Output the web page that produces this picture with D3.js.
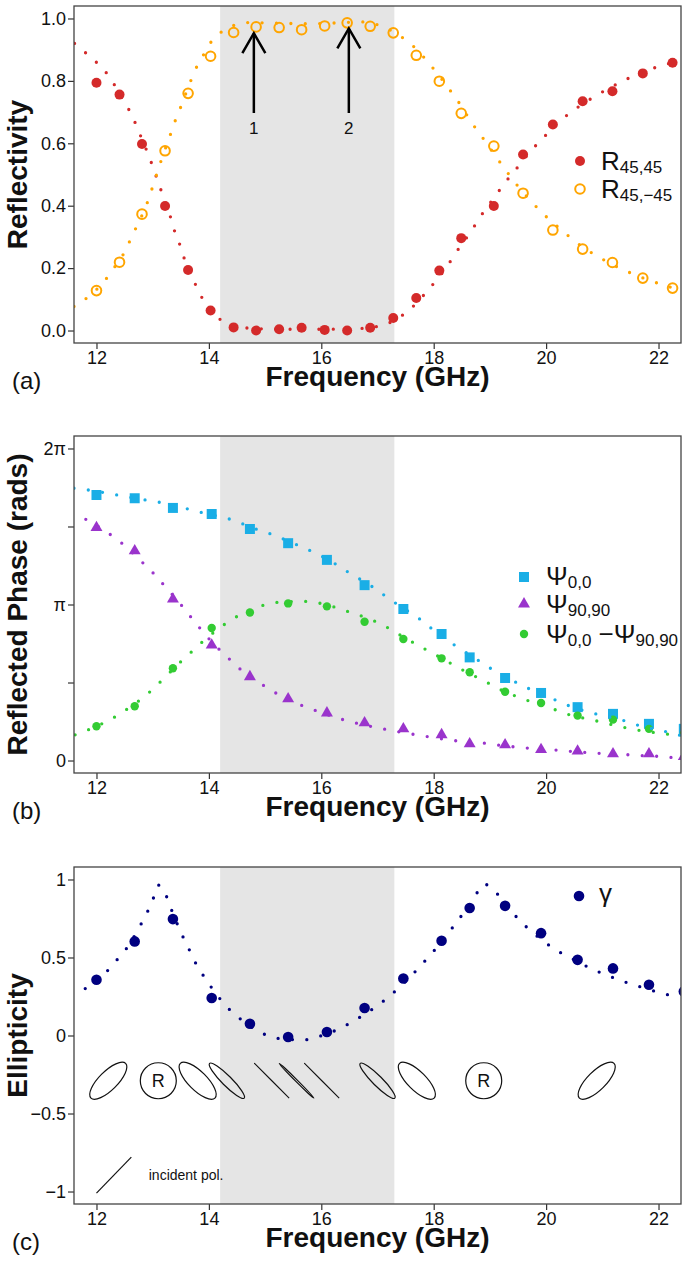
<!DOCTYPE html>
<html><head><meta charset="utf-8">
<script src="https://cdn.jsdelivr.net/npm/d3@7"></script>
<style>
body { margin:0; background:#fff; }
text { font-family:"Liberation Sans", Arial, Helvetica, sans-serif; fill:#111; }
</style></head><body>
<svg id="fig" width="688" height="1272"></svg>
<script>
// ---- data ----
// (a) reflectivity
var freqA = [12.0,12.41,12.81,13.22,13.63,14.03,14.44,14.84,15.25,15.65,16.06,16.46,16.87,17.28,17.69,18.10,18.49,19.07,19.59,20.12,20.65,21.18,21.72,22.25];
var r4545 = [0.794,0.756,0.598,0.399,0.194,0.064,0.01,0.0,0.004,0.009,0.002,0.0,0.009,0.04,0.104,0.192,0.296,0.399,0.564,0.66,0.735,0.767,0.824,0.858];
var r45m45 = [0.128,0.219,0.373,0.576,0.76,0.879,0.955,0.973,0.971,0.964,0.976,0.986,0.975,0.954,0.882,0.799,0.696,0.591,0.44,0.322,0.261,0.218,0.168,0.136];
var fitR4545 = [[11.61,0.92],[11.8,0.891],[11.99,0.861],[12.17,0.827],[12.31,0.79],[12.57,0.71],[12.68,0.669],[12.78,0.626],[12.97,0.541],[13.05,0.5],[13.14,0.454],[13.31,0.368],[13.38,0.324],[13.47,0.282],[13.55,0.237],[13.75,0.152],[13.86,0.111],[14.17,0.04],[14.5,0.012],[15.0,0.005],[15.5,0.004],[16.0,0.004],[16.5,0.005],[16.9,0.01],[17.16,0.021],[17.59,0.07],[17.93,0.136],[18.25,0.209],[18.39,0.248],[18.68,0.322],[18.82,0.362],[19.12,0.437],[19.27,0.474],[19.43,0.509],[19.75,0.58],[19.93,0.614],[20.29,0.678],[20.49,0.706],[20.92,0.756],[21.37,0.8],[21.83,0.836],[22.08,0.85],[22.33,0.863]];
var fitR45m45 = [[11.6,0.077],[11.81,0.102],[12.17,0.165],[12.33,0.205],[12.47,0.242],[12.58,0.282],[12.69,0.324],[12.9,0.408],[12.98,0.45],[13.14,0.539],[13.31,0.625],[13.39,0.667],[13.49,0.712],[13.67,0.797],[13.77,0.84],[13.89,0.879],[14.02,0.92],[14.19,0.952],[14.42,0.976],[14.66,0.987],[15.2,0.985],[15.8,0.983],[16.3,0.986],[16.7,0.989],[17.0,0.98],[17.41,0.943],[17.62,0.914],[17.96,0.847],[18.27,0.775],[18.42,0.738],[18.7,0.66],[18.85,0.623],[19.14,0.549],[19.29,0.512],[19.44,0.476],[19.78,0.405],[19.96,0.372],[20.34,0.312],[20.54,0.282],[20.97,0.232],[21.42,0.191],[21.9,0.157],[22.14,0.143],[22.39,0.13]];
var arrowsA = [{f:14.8, tail:0.697, tip:0.953, label:"1"}, {f:16.49, tail:0.697, tip:0.968, label:"2"}];

// (b) reflected phase, in units of pi
var freqB = [12.0,12.68,13.36,14.05,14.73,15.41,16.1,16.77,17.46,18.14,18.64,19.27,19.91,20.56,21.19,21.83,22.45];
var psi00 = [1.702,1.681,1.619,1.58,1.484,1.393,1.286,1.124,0.971,0.811,0.661,0.529,0.433,0.342,0.299,0.235,0.203];
var psi9090 = [1.493,1.344,1.035,0.74,0.537,0.395,0.305,0.241,0.203,0.165,0.107,0.1,0.07,0.06,0.043,0.043,0.025];
var psiDiff = [0.22,0.348,0.591,0.849,0.949,1.007,0.988,0.889,0.779,0.655,0.566,0.441,0.369,0.288,0.262,0.203,0.17];
var fitPsi00 = [[11.6,1.745],[11.89,1.732],[12.14,1.717],[12.39,1.7],[12.9,1.668],[13.15,1.653],[13.65,1.61],[13.88,1.589],[14.38,1.546],[14.85,1.482],[15.1,1.452],[15.58,1.38],[15.81,1.344],[16.26,1.258],[16.47,1.209],[16.91,1.113],[17.11,1.062],[17.32,1.009],[17.75,0.907],[17.96,0.847],[18.37,0.74],[18.8,0.64],[19.01,0.591],[19.46,0.502],[19.68,0.463],[20.15,0.39],[20.37,0.356],[20.88,0.299],[21.38,0.256],[21.62,0.228],[22.12,0.186],[22.4,0.16]];
var fitPsi9090 = [[11.81,1.546],[12.24,1.45],[12.45,1.393],[12.82,1.269],[13.0,1.205],[13.17,1.137],[13.51,0.996],[13.67,0.924],[13.83,0.853],[13.99,0.785],[14.35,0.655],[14.54,0.591],[14.96,0.484],[15.17,0.437],[15.63,0.356],[15.87,0.324],[16.34,0.267],[16.61,0.241],[17.1,0.203],[17.59,0.171],[17.84,0.156],[18.36,0.128],[18.86,0.113],[19.12,0.1],[19.63,0.081],[20.14,0.068],[20.39,0.06],[20.91,0.047],[21.41,0.038],[21.66,0.032],[22.17,0.022],[22.4,0.011]];
var fitPsiDiff = [[11.62,0.165],[11.86,0.198],[12.32,0.278],[12.53,0.326],[12.94,0.437],[13.13,0.502],[13.49,0.63],[13.68,0.693],[13.86,0.753],[14.26,0.868],[14.47,0.917],[14.94,0.992],[15.19,1.013],[15.69,1.02],[15.96,1.009],[16.43,0.96],[17.14,0.86],[17.35,0.815],[17.81,0.721],[18.03,0.678],[18.48,0.587],[18.94,0.502],[19.16,0.459],[19.63,0.39],[20.12,0.331],[20.36,0.299],[20.87,0.256],[21.36,0.214],[21.61,0.196],[22.11,0.171],[22.36,0.16]];

// (c) ellipticity
var gammaC = [0.357,0.603,0.746,0.24,0.075,-0.01,0.022,0.176,0.365,0.607,0.817,0.831,0.656,0.485,0.43,0.325,0.282];
var fitGamma = [[11.8,0.301],[12.2,0.417],[12.36,0.483],[12.53,0.556],[12.79,0.712],[12.91,0.795],[13.01,0.878],[13.1,0.964],[13.24,0.896],[13.33,0.81],[13.53,0.639],[13.64,0.558],[13.75,0.474],[13.88,0.396],[14.02,0.321],[14.34,0.176],[14.53,0.115],[14.97,0.011],[15.19,-0.017],[15.7,-0.028],[15.96,-0.006],[16.3,0.04],[16.64,0.107],[17.06,0.208],[17.26,0.267],[17.63,0.394],[17.8,0.46],[17.97,0.528],[18.29,0.671],[18.45,0.746],[18.74,0.896],[18.89,0.972],[19.07,0.929],[19.4,0.788],[19.58,0.72],[19.76,0.66],[19.96,0.603],[20.17,0.549],[20.39,0.506],[20.85,0.421],[21.08,0.387],[21.32,0.353],[21.56,0.325],[22.05,0.272],[22.3,0.25],[22.4,0.245]];
// polarisation ellipse sketches
var polFreq = [12.21,13.1,13.8,14.32,15.12,15.56,16.01,17.0,17.7,18.89,20.9];
var polRatio = [0.38,1,0.38,0.2,0,0.04,0,0.2,0.38,1,0.38];
var polTilt = [45,0,-45,-45,-45,-45,-45,-45,-45,0,45];
var polLevel = -0.29;
var incidentPol = [[12.0,-1.01],[12.62,-0.78]];

// ---- layout ----
var svg = d3.select("#fig");
var plotL = 74, plotR = 681, plotH = 337;
var panelTops = [6, 436, 867];
var x = d3.scaleLinear().domain([11.6, 22.4]).range([plotL, plotR]);
var xTicks = [12, 14, 16, 18, 20, 22];
var band = [14.2, 17.3];
var dotLine = { w: 3.3, gap: 14.4 };

var cRed = "#d42a2a", cOrange = "#ffa500", cBlue = "#1aaee6", cPurple = "#9a34cc", cGreen = "#33cc33", cNavy = "#000080";

function setupPanel(i, yDomain, yTicks, yFmt, yTitle, letter) {
  var top = panelTops[i], bot = top + plotH;
  var y = d3.scaleLinear().domain(yDomain).range([bot, top]);
  var g = svg.append("g");
  svg.append("clipPath").attr("id", "clip" + i)
     .append("rect").attr("x", plotL).attr("y", top).attr("width", plotR - plotL).attr("height", plotH);

  g.append("rect")
   .attr("x", x(band[0])).attr("y", top)
   .attr("width", x(band[1]) - x(band[0])).attr("height", plotH)
   .attr("fill", "#e5e5e5");

  var gx = g.append("g").attr("transform", "translate(0," + bot + ")")
            .call(d3.axisBottom(x).tickValues(xTicks).tickSize(6).tickPadding(2));
  var gy = g.append("g").attr("transform", "translate(" + plotL + ",0)")
            .call(d3.axisLeft(y).tickValues(yTicks).tickFormat(yFmt).tickSize(6).tickPadding(2));
  [gx, gy].forEach(function(a) {
    a.select(".domain").remove();
    a.selectAll("line").attr("stroke", "#333").attr("stroke-width", 1.2);
    a.selectAll("text").attr("font-size", 18).attr("fill", "#111")
     .attr("font-family", "'Liberation Sans', Arial, sans-serif");
  });

  g.append("text").attr("x", (plotL + plotR) / 2).attr("y", bot + 43)
   .attr("text-anchor", "middle").attr("font-size", 28).attr("font-weight", "bold")
   .text("Frequency (GHz)");
  g.append("text").attr("transform", "translate(27," + (top + plotH / 2) + ") rotate(-90)")
   .attr("text-anchor", "middle").attr("font-size", 28).attr("font-weight", "bold")
   .text(yTitle);
  g.append("text").attr("x", 12).attr("y", bot + 46).attr("font-size", 24).text(letter);

  var plot = g.append("g").attr("clip-path", "url(#clip" + i + ")");
  var box = g.append("rect").attr("x", plotL).attr("y", top)
             .attr("width", plotR - plotL).attr("height", plotH)
             .attr("fill", "none").attr("stroke", "#444").attr("stroke-width", 1.3);
  return { g: g, plot: plot, y: y, top: top, bot: bot };
}

function fitCurve(p, y, pts, color) {
  var line = d3.line().x(function(d) { return x(d[0]); }).y(function(d) { return y(d[1]); })
               .curve(d3.curveMonotoneX);
  p.plot.append("path").attr("d", line(pts))
   .attr("fill", "none").attr("stroke", color)
   .attr("stroke-width", dotLine.w).attr("stroke-linecap", "round")
   .attr("stroke-dasharray", "0," + dotLine.gap);
}

function zip(fs, vs) { return fs.map(function(f, k) { return [f, vs[k]]; }); }

// ---- panel (a) ----
var pa = setupPanel(0, [-0.04, 1.04], [0, 0.2, 0.4, 0.6, 0.8, 1.0], d3.format(".1f"), "Reflectivity", "(a)");
pa.plot.selectAll(".red").data(zip(freqA, r4545)).enter().append("circle")
  .attr("cx", function(d) { return x(d[0]); }).attr("cy", function(d) { return pa.y(d[1]); })
  .attr("r", 5).attr("fill", cRed);
pa.plot.selectAll(".org").data(zip(freqA, r45m45)).enter().append("circle")
  .attr("cx", function(d) { return x(d[0]); }).attr("cy", function(d) { return pa.y(d[1]); })
  .attr("r", 4.8).attr("fill", "none").attr("stroke", cOrange).attr("stroke-width", 2);
fitCurve(pa, pa.y, fitR4545, cRed);
fitCurve(pa, pa.y, fitR45m45, cOrange);

arrowsA.forEach(function(a) {
  var ax = x(a.f), y0 = pa.y(a.tail), y1 = pa.y(a.tip);
  pa.g.append("line").attr("x1", ax).attr("x2", ax).attr("y1", y0).attr("y2", y1)
      .attr("stroke", "#000").attr("stroke-width", 2.5);
  pa.g.append("path").attr("d", "M" + (ax - 11.5) + "," + (y1 + 20) + "L" + ax + "," + y1 + "L" + (ax + 11.5) + "," + (y1 + 20))
      .attr("fill", "none").attr("stroke", "#000").attr("stroke-width", 2.5);
  pa.g.append("text").attr("x", ax).attr("y", y0 + 21).attr("text-anchor", "middle")
      .attr("font-size", 17).text(a.label);
});

// legend (a)
var legA = pa.g.append("g");
legA.append("circle").attr("cx", 580).attr("cy", 161).attr("r", 5).attr("fill", cRed);
legA.append("circle").attr("cx", 580).attr("cy", 189).attr("r", 4.8).attr("fill", "none").attr("stroke", cOrange).attr("stroke-width", 2);
var t1 = legA.append("text").attr("x", 601).attr("y", 170).attr("font-size", 26);
t1.append("tspan").text("R");
t1.append("tspan").attr("dy", 3).attr("font-size", 17).text("45,45");
var t2 = legA.append("text").attr("x", 601).attr("y", 198).attr("font-size", 26);
t2.append("tspan").text("R");
t2.append("tspan").attr("dy", 3).attr("font-size", 17).text("45,\u221245");

// ---- panel (b) ----
var piFmt = function(d) { return d === 0 ? "0" : d === 1 ? "\u03c0" : d === 2 ? "2\u03c0" : ""; };
var pb = setupPanel(1, [-0.08, 2.08], [0, 0.5, 1, 1.5, 2], piFmt, "Reflected Phase (rads)", "(b)");
pb.plot.selectAll(".sq").data(zip(freqB, psi00)).enter().append("path")
  .attr("transform", function(d) { return "translate(" + x(d[0]) + "," + pb.y(d[1]) + ")"; })
  .attr("d", d3.symbol().type(d3.symbolSquare).size(100)).attr("fill", cBlue);
pb.plot.selectAll(".tri").data(zip(freqB, psi9090)).enter().append("path")
  .attr("transform", function(d) { return "translate(" + x(d[0]) + "," + pb.y(d[1]) + ")"; })
  .attr("d", d3.symbol().type(d3.symbolTriangle).size(62)).attr("fill", cPurple);
pb.plot.selectAll(".gc").data(zip(freqB, psiDiff)).enter().append("circle")
  .attr("cx", function(d) { return x(d[0]); }).attr("cy", function(d) { return pb.y(d[1]); })
  .attr("r", 4.2).attr("fill", cGreen);
fitCurve(pb, pb.y, fitPsi00, cBlue);
fitCurve(pb, pb.y, fitPsi9090, cPurple);
fitCurve(pb, pb.y, fitPsiDiff, cGreen);

var legB = pb.g.append("g");
legB.append("path").attr("transform", "translate(524,577)").attr("d", d3.symbol().type(d3.symbolSquare).size(100)).attr("fill", cBlue);
legB.append("path").attr("transform", "translate(524,604)").attr("d", d3.symbol().type(d3.symbolTriangle).size(62)).attr("fill", cPurple);
legB.append("circle").attr("cx", 524).attr("cy", 634).attr("r", 4.2).attr("fill", cGreen);
var b1 = legB.append("text").attr("x", 546).attr("y", 585).attr("font-size", 26);
b1.append("tspan").text("\u03a8"); b1.append("tspan").attr("dy", 3).attr("font-size", 17).text("0,0");
var b2 = legB.append("text").attr("x", 546).attr("y", 613).attr("font-size", 26);
b2.append("tspan").text("\u03a8"); b2.append("tspan").attr("dy", 3).attr("font-size", 17).text("90,90");
var b3 = legB.append("text").attr("x", 546).attr("y", 643).attr("font-size", 26);
b3.append("tspan").text("\u03a8"); b3.append("tspan").attr("dy", 3).attr("font-size", 17).text("0,0");
b3.append("tspan").attr("dy", -3).text(" \u2212\u03a8"); b3.append("tspan").attr("dy", 3).attr("font-size", 17).text("90,90");

// ---- panel (c) ----
var ellFmt = function(d) { return d === 0 ? "0" : String(d).replace("-", "\u2212"); };
var pc = setupPanel(2, [-1.08, 1.08], [-1, -0.5, 0, 0.5, 1], ellFmt, "Ellipticity", "(c)");
pc.plot.selectAll(".nv").data(zip(freqB, gammaC)).enter().append("circle")
  .attr("cx", function(d) { return x(d[0]); }).attr("cy", function(d) { return pc.y(d[1]); })
  .attr("r", 5.3).attr("fill", cNavy);
fitCurve(pc, pc.y, fitGamma, cNavy);

// polarisation sketches
polFreq.forEach(function(f, k) {
  var cx = x(f), cy = pc.y(polLevel);
  if (polRatio[k] === 1) {
    pc.g.append("circle").attr("cx", cx).attr("cy", cy).attr("r", 18)
        .attr("fill", "none").attr("stroke", "#111").attr("stroke-width", 1.2);
    pc.g.append("text").attr("x", cx).attr("y", cy + 6.5).attr("text-anchor", "middle")
        .attr("font-size", 18).text("R");
  } else {
    pc.g.append("ellipse").attr("cx", 0).attr("cy", 0).attr("rx", 24.5).attr("ry", Math.max(24.5 * polRatio[k], 0.01))
        .attr("transform", "translate(" + cx + "," + cy + ") rotate(" + (-polTilt[k]) + ")")
        .attr("fill", "none").attr("stroke", "#111").attr("stroke-width", polRatio[k] === 0 ? 1.1 : 1.2);
  }
});
pc.g.append("line")
  .attr("x1", x(incidentPol[0][0])).attr("y1", pc.y(incidentPol[0][1]))
  .attr("x2", x(incidentPol[1][0])).attr("y2", pc.y(incidentPol[1][1]))
  .attr("stroke", "#111").attr("stroke-width", 1.2);
pc.g.append("text").attr("x", x(12.93)).attr("y", pc.y(-0.925)).attr("font-size", 14).text("incident pol.");

var legC = pc.g.append("g");
legC.append("circle").attr("cx", 579).attr("cy", 896).attr("r", 5.3).attr("fill", cNavy);
legC.append("text").attr("x", 599).attr("y", 902).attr("font-size", 26).text("\u03b3");
</script></body></html>
